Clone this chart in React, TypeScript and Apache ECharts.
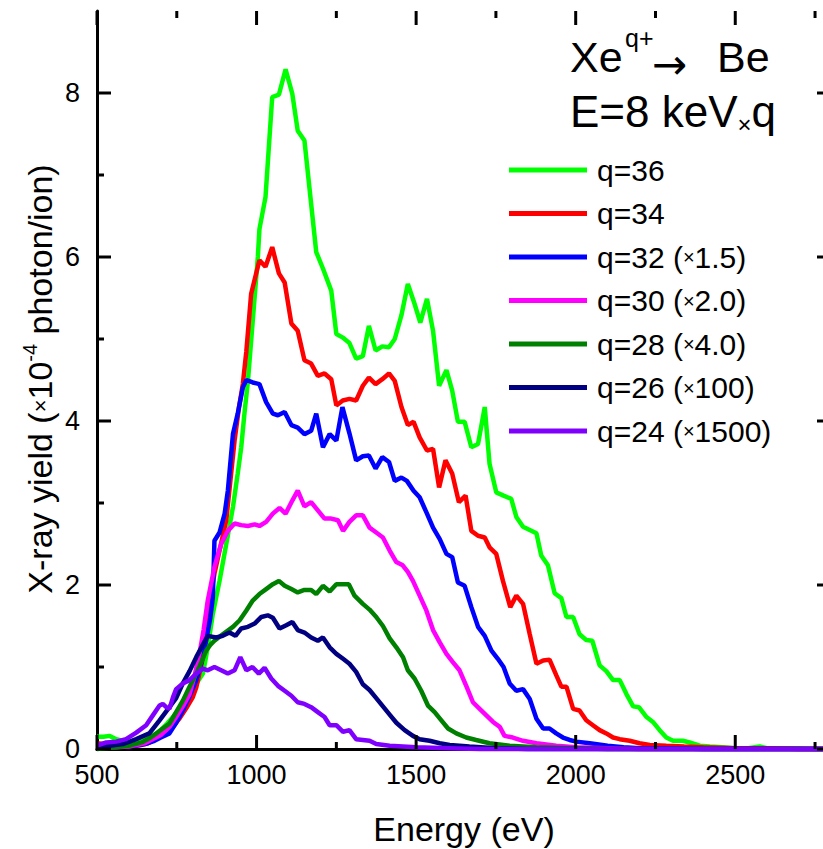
import React, { useEffect, useRef } from 'react';
import * as echarts from 'echarts';

const FONT = '"Liberation Sans", Arial, Helvetica, sans-serif';

// Axis ranges (Energy in eV, yield in 1e-4 photon/ion)
const xRange = [500, 2800];
const yRange = [0, 9];
const xInterval = 500;
const yInterval = 2;
const xMajorTicks = [500, 1000, 1500, 2000, 2500];
const xMinorTicks = [750, 1250, 1750, 2250, 2750];
const yMajorTicks = [0, 2, 4, 6, 8];
const yMinorTicks = [1, 3, 5, 7];

const seriesNames = [
  'q=36',
  'q=34',
  'q=32 (×1.5)',
  'q=30 (×2.0)',
  'q=28 (×4.0)',
  'q=26 (×100)',
  'q=24 (×1500)',
];
const seriesColors = ['#00ff00', '#ff0000', '#0000ff', '#ff00ff', '#008000', '#000080', '#8000ff'];

// [energy (eV), yield] pairs per charge state
const q36: [number, number][] = [
  [500, 0.15], [520, 0.15], [540, 0.16], [560, 0.12], [580, 0.1], [600, 0.08], [620, 0.08], [640, 0.1],
  [660, 0.13], [680, 0.17], [700, 0.23], [720, 0.31], [740, 0.4], [760, 0.5], [780, 0.6], [800, 0.72],
  [815, 0.82], [832, 0.92], [847, 1.24], [863, 1.65], [884, 2.05], [905, 2.5], [926, 2.95], [941, 3.36],
  [952, 3.68], [962, 4.09], [973, 4.49], [1004, 6.0], [1009, 6.34], [1028, 6.73], [1049, 7.95], [1070, 7.98],
  [1091, 8.29], [1112, 7.99], [1129, 7.54], [1150, 7.42], [1187, 6.06], [1208, 5.86], [1234, 5.59], [1250, 5.06],
  [1269, 5.02], [1291, 4.95], [1312, 4.76], [1333, 4.79], [1352, 5.16], [1373, 4.86], [1394, 4.91], [1415, 4.9],
  [1433, 5.0], [1454, 5.29], [1474, 5.67], [1495, 5.43], [1513, 5.2], [1534, 5.49], [1553, 5.1], [1572, 4.43],
  [1595, 4.62], [1613, 4.37], [1631, 3.99], [1652, 3.99], [1673, 3.68], [1694, 3.72], [1715, 4.17], [1730, 3.48],
  [1751, 3.13], [1774, 3.09], [1798, 3.05], [1814, 2.83], [1835, 2.71], [1856, 2.67], [1877, 2.63], [1892, 2.36],
  [1913, 2.24], [1934, 1.9], [1955, 1.84], [1971, 1.61], [1992, 1.61], [2012, 1.4], [2033, 1.33], [2052, 1.32],
  [2075, 1.02], [2096, 0.95], [2117, 0.84], [2138, 0.84], [2159, 0.67], [2180, 0.52], [2198, 0.51], [2222, 0.39],
  [2242, 0.33], [2263, 0.23], [2284, 0.14], [2305, 0.1], [2336, 0.1], [2357, 0.08], [2389, 0.04], [2420, 0.03],
  [2460, 0.02], [2500, 0.01], [2540, 0.01], [2577, 0.03], [2600, 0.01], [2650, 0.01], [2700, 0.01], [2750, 0.0],
  [2800, 0.0],
];

const q34: [number, number][] = [
  [500, 0.07], [520, 0.06], [540, 0.06], [560, 0.05], [580, 0.04], [600, 0.04], [620, 0.04], [640, 0.05],
  [660, 0.07], [680, 0.11], [700, 0.15], [720, 0.21], [740, 0.28], [760, 0.38], [780, 0.5], [800, 0.63],
  [811, 0.75], [832, 1.12], [850, 1.73], [868, 2.14], [884, 2.42], [905, 2.79], [931, 3.76], [945, 4.17],
  [957, 4.45], [968, 4.85], [983, 5.55], [1009, 5.96], [1028, 5.88], [1049, 6.12], [1070, 5.8], [1088, 5.69],
  [1109, 5.19], [1129, 5.1], [1150, 4.74], [1171, 4.7], [1192, 4.55], [1213, 4.58], [1234, 4.51], [1250, 4.19],
  [1270, 4.25], [1291, 4.27], [1312, 4.25], [1333, 4.43], [1352, 4.53], [1373, 4.45], [1394, 4.51], [1415, 4.58],
  [1433, 4.49], [1454, 4.17], [1474, 3.95], [1492, 3.99], [1511, 3.8], [1534, 3.64], [1553, 3.66], [1572, 3.19],
  [1592, 3.52], [1613, 3.36], [1634, 3.01], [1655, 3.09], [1673, 2.66], [1694, 2.6], [1715, 2.58], [1730, 2.46],
  [1751, 2.38], [1772, 2.05], [1795, 1.73], [1814, 1.87], [1835, 1.77], [1856, 1.4], [1877, 1.04], [1898, 1.08],
  [1918, 1.09], [1939, 0.9], [1955, 0.76], [1971, 0.76], [1992, 0.49], [2012, 0.47], [2033, 0.35], [2054, 0.29],
  [2075, 0.23], [2096, 0.19], [2117, 0.14], [2138, 0.12], [2169, 0.1], [2200, 0.07], [2232, 0.05], [2284, 0.04],
  [2340, 0.03], [2400, 0.02], [2500, 0.01], [2600, 0.01], [2700, 0.0], [2800, 0.0],
];

const q32: [number, number][] = [
  [500, 0.02], [540, 0.02], [580, 0.03], [620, 0.04], [650, 0.06], [680, 0.1], [700, 0.14], [727, 0.19],
  [748, 0.32], [769, 0.47], [790, 0.64], [811, 0.84], [827, 1.05], [842, 1.32], [855, 1.6], [863, 1.85],
  [868, 2.54], [884, 2.64], [900, 2.87], [910, 3.15], [926, 3.84], [941, 4.09], [957, 4.41], [968, 4.5],
  [988, 4.47], [1009, 4.45], [1030, 4.23], [1051, 4.09], [1067, 4.07], [1088, 4.11], [1109, 3.95], [1129, 3.92],
  [1150, 3.84], [1171, 3.88], [1187, 4.09], [1208, 3.68], [1229, 3.84], [1250, 3.76], [1269, 4.17], [1291, 3.85],
  [1312, 3.52], [1333, 3.57], [1352, 3.58], [1373, 3.42], [1394, 3.56], [1415, 3.5], [1433, 3.27], [1454, 3.31],
  [1471, 3.27], [1492, 3.15], [1511, 3.07], [1534, 2.87], [1553, 2.7], [1574, 2.56], [1595, 2.38], [1613, 2.34],
  [1631, 2.03], [1652, 1.99], [1673, 1.73], [1694, 1.49], [1715, 1.38], [1736, 1.2], [1756, 1.1], [1774, 1.0],
  [1793, 0.8], [1814, 0.71], [1835, 0.73], [1856, 0.61], [1877, 0.37], [1898, 0.25], [1918, 0.25], [1939, 0.19],
  [1960, 0.14], [1981, 0.11], [2002, 0.09], [2044, 0.07], [2100, 0.04], [2150, 0.02], [2200, 0.01], [2300, 0.01],
  [2400, 0.0], [2800, 0.0],
];

const q30: [number, number][] = [
  [500, 0.02], [560, 0.02], [600, 0.03], [650, 0.07], [700, 0.17], [727, 0.27], [748, 0.39], [769, 0.52],
  [790, 0.67], [805, 0.88], [821, 1.16], [834, 1.45], [847, 1.81], [868, 2.22], [889, 2.5], [910, 2.66],
  [931, 2.75], [952, 2.73], [973, 2.72], [994, 2.74], [1009, 2.72], [1030, 2.77], [1051, 2.87], [1072, 2.94],
  [1091, 2.87], [1112, 3.03], [1129, 3.15], [1150, 2.96], [1171, 3.01], [1192, 2.91], [1213, 2.81], [1234, 2.81],
  [1255, 2.79], [1271, 2.66], [1291, 2.77], [1312, 2.85], [1333, 2.85], [1354, 2.7], [1375, 2.64], [1396, 2.58],
  [1417, 2.42], [1438, 2.28], [1458, 2.24], [1474, 2.16], [1490, 2.05], [1511, 1.87], [1532, 1.69], [1553, 1.45],
  [1574, 1.3], [1595, 1.16], [1615, 1.06], [1636, 0.96], [1657, 0.77], [1678, 0.57], [1699, 0.49], [1720, 0.41],
  [1741, 0.33], [1762, 0.27], [1777, 0.16], [1803, 0.14], [1835, 0.1], [1877, 0.07], [1939, 0.04], [2000, 0.02],
  [2100, 0.01], [2200, 0.0], [2800, 0.0],
];

const q28: [number, number][] = [
  [500, 0.0], [560, 0.02], [600, 0.04], [640, 0.08], [664, 0.13], [686, 0.19], [706, 0.25], [727, 0.31],
  [748, 0.45], [769, 0.59], [790, 0.76], [811, 0.92], [827, 1.06], [842, 1.2], [855, 1.27], [868, 1.32],
  [894, 1.4], [926, 1.49], [947, 1.57], [968, 1.69], [988, 1.81], [1009, 1.89], [1030, 1.95], [1051, 2.01],
  [1070, 2.05], [1088, 1.99], [1109, 1.95], [1129, 1.91], [1150, 1.94], [1171, 1.94], [1187, 1.89], [1208, 1.99],
  [1229, 1.92], [1250, 2.01], [1269, 2.01], [1289, 2.01], [1307, 1.87], [1333, 1.77], [1354, 1.7], [1375, 1.61],
  [1396, 1.5], [1417, 1.35], [1438, 1.24], [1459, 1.12], [1474, 0.96], [1495, 0.86], [1516, 0.71], [1537, 0.53],
  [1558, 0.45], [1579, 0.35], [1600, 0.25], [1626, 0.19], [1657, 0.14], [1688, 0.11], [1730, 0.07], [1793, 0.04],
  [1877, 0.02], [2000, 0.01], [2100, 0.0], [2800, 0.0],
];

const q26: [number, number][] = [
  [500, 0.02], [539, 0.04], [581, 0.06], [623, 0.12], [664, 0.19], [696, 0.35], [727, 0.51], [748, 0.62],
  [769, 0.8], [790, 0.95], [811, 1.12], [830, 1.26], [847, 1.38], [873, 1.36], [894, 1.38], [915, 1.42],
  [934, 1.38], [952, 1.47], [973, 1.49], [994, 1.53], [1015, 1.61], [1035, 1.63], [1051, 1.6], [1072, 1.47],
  [1093, 1.51], [1112, 1.55], [1129, 1.45], [1150, 1.42], [1171, 1.36], [1192, 1.32], [1208, 1.36], [1229, 1.24],
  [1250, 1.16], [1271, 1.1], [1291, 1.04], [1312, 0.94], [1333, 0.79], [1354, 0.72], [1375, 0.62], [1396, 0.52],
  [1417, 0.42], [1438, 0.32], [1464, 0.23], [1490, 0.16], [1511, 0.12], [1542, 0.1], [1574, 0.07], [1605, 0.05],
  [1667, 0.03], [1750, 0.01], [1850, 0.0], [2800, 0.0],
];

const q24: [number, number][] = [
  [500, 0.04], [529, 0.08], [560, 0.09], [591, 0.12], [623, 0.2], [654, 0.29], [675, 0.41], [696, 0.53],
  [706, 0.55], [717, 0.51], [727, 0.49], [738, 0.63], [748, 0.73], [769, 0.8], [790, 0.84], [811, 0.92],
  [832, 0.98], [847, 0.96], [868, 1.0], [889, 0.96], [910, 0.92], [931, 0.96], [949, 1.12], [968, 0.96],
  [987, 1.0], [1007, 0.92], [1025, 0.99], [1046, 0.86], [1067, 0.77], [1088, 0.71], [1109, 0.65], [1129, 0.57],
  [1150, 0.55], [1171, 0.51], [1192, 0.45], [1213, 0.39], [1229, 0.29], [1250, 0.29], [1271, 0.21], [1291, 0.23],
  [1312, 0.12], [1333, 0.11], [1354, 0.1], [1375, 0.06], [1417, 0.04], [1500, 0.02], [1600, 0.01], [1700, 0.0],
  [2800, 0.0],
];

const seriesData = [q36, q34, q32, q30, q28, q26, q24];

const MAJOR_LEN = 14;
const MINOR_LEN = 7;

// Frame sides; the inward ticks are added as graphic lines below
function frameAxis(position: string, range: number[], interval: number, extra: any = {}) {
  return {
    type: 'value',
    position,
    min: range[0],
    max: range[1],
    interval,
    axisLine: { show: true, lineStyle: { color: '#000', width: 3 } },
    axisTick: { show: false },
    minorTick: { show: false },
    splitLine: { show: false },
    axisLabel: { show: false },
    ...extra,
  };
}

const labelStyle = {
  show: true,
  color: '#000',
  fontFamily: FONT,
  fontSize: 27,
  showMaxLabel: false,
  formatter: (v: number) => String(v),
};

const titleTexts = [
  { type: 'text', x: 570, y: 56.8, style: { text: 'Xe', fontFamily: FONT, fontSize: 43, fill: '#000', align: 'left', verticalAlign: 'middle' } },
  { type: 'text', x: 625, y: 37.5, style: { text: 'q+', fontFamily: FONT, fontSize: 25, fill: '#000', align: 'left', verticalAlign: 'middle' } },
  { type: 'text', x: 652, y: 64, style: { text: '→', fontFamily: '"DejaVu Sans"', fontSize: 42, fill: '#000', align: 'left', verticalAlign: 'middle' } },
  { type: 'text', x: 717, y: 56.8, style: { text: 'Be', fontFamily: FONT, fontSize: 43, fill: '#000', align: 'left', verticalAlign: 'middle' } },
  {
    type: 'text',
    x: 570,
    y: 111.8,
    style: {
      text: '{a|E=8 keV}{b|×}{a|q}',
      align: 'left',
      verticalAlign: 'middle',
      rich: {
        a: { fontFamily: FONT, fontSize: 44, fill: '#000', lineHeight: 50 },
        b: { fontFamily: FONT, fontSize: 24, fill: '#000', lineHeight: 40, verticalAlign: 'bottom' },
      },
    },
  },
  // axis titles
  {
    type: 'text',
    x: 464,
    y: 829,
    style: { text: 'Energy (eV)', fontFamily: FONT, fontSize: 34, fill: '#000', align: 'center', verticalAlign: 'middle' },
  },
  {
    type: 'text',
    x: 40,
    y: 379,
    rotation: Math.PI / 2,
    style: {
      text: 'X-ray yield ({x|×}10{sup|-4} photon/ion)',
      fontFamily: FONT,
      fontSize: 34,
      fill: '#000',
      align: 'center',
      verticalAlign: 'middle',
      lineHeight: 40,
      rich: {
        x: { fontFamily: FONT, fontSize: 22, fill: '#000', lineHeight: 40 },
        sup: { fontFamily: FONT, fontSize: 20, fill: '#000', verticalAlign: 'top', lineHeight: 20 },
      },
    },
  },
];

function buildOption(): any {
  return {
    animation: false,
    backgroundColor: '#fff',
    grid: { left: 97, right: 14, top: 11, bottom: 100 },
    xAxis: [
      frameAxis('bottom', xRange, xInterval, { axisLabel: { ...labelStyle, margin: 12 } }),
      frameAxis('top', xRange, xInterval),
    ],
    yAxis: [
      frameAxis('left', yRange, yInterval, { axisLabel: { ...labelStyle, margin: 17 } }),
      frameAxis('right', yRange, yInterval),
    ],
    legend: {
      show: true,
      orient: 'vertical',
      left: 504,
      top: 150,
      itemWidth: 78,
      itemHeight: 5,
      itemGap: 13.5,
      icon: 'rect',
      selectedMode: false,
      data: seriesNames,
      formatter: (name: string) => name.replace('×', '{x|×}'),
      textStyle: {
        color: '#000',
        fontFamily: FONT,
        fontSize: 30,
        lineHeight: 30,
        padding: [0, 0, 0, 5],
        rich: { x: { fontFamily: FONT, fontSize: 20, color: '#000', lineHeight: 30 } },
      },
    },
    series: seriesNames.map((name, i) => ({
      name,
      type: 'line',
      data: seriesData[i],
      xAxisIndex: 0,
      yAxisIndex: 0,
      showSymbol: false,
      symbol: 'none',
      clip: false,
      z: 2 + i,
      lineStyle: { color: seriesColors[i], width: 4.5 },
      itemStyle: { color: seriesColors[i] },
    })),
  };
}

// Inward tick marks on all four frame sides, placed through the chart's own scales
function tickGraphics(chart: echarts.ECharts): any[] {
  const finder = { xAxisIndex: 0, yAxisIndex: 0 };
  const style = { stroke: '#000', lineWidth: 3 };
  const out: any[] = [];
  const line = (x1: number, y1: number, x2: number, y2: number) =>
    out.push({ type: 'line', z: 100, zlevel: 0, silent: true, shape: { x1, y1, x2, y2 }, style });
  const xTick = (v: number, len: number) => {
    const b = chart.convertToPixel(finder, [v, yRange[0]]) as number[];
    const t = chart.convertToPixel(finder, [v, yRange[1]]) as number[];
    line(b[0], b[1], b[0], b[1] - len);
    line(t[0], t[1], t[0], t[1] + len);
  };
  const yTick = (v: number, len: number) => {
    const l = chart.convertToPixel(finder, [xRange[0], v]) as number[];
    const r = chart.convertToPixel(finder, [xRange[1], v]) as number[];
    line(l[0], l[1], l[0] + len, l[1]);
    line(r[0], r[1], r[0] - len, r[1]);
  };
  xMajorTicks.forEach((v) => xTick(v, MAJOR_LEN));
  xMinorTicks.forEach((v) => xTick(v, MINOR_LEN));
  yMajorTicks.forEach((v) => yTick(v, MAJOR_LEN));
  yMinorTicks.forEach((v) => yTick(v, MINOR_LEN));
  return out;
}

export default function App() {
  const ref = useRef<HTMLDivElement>(null);
  useEffect(() => {
    if (!ref.current) return;
    const chart = echarts.init(ref.current, null, { renderer: 'svg' });
    chart.setOption(buildOption());
    chart.setOption({ graphic: { elements: [...titleTexts, ...tickGraphics(chart)] } });
    return () => chart.dispose();
  }, []);
  return (
    <div
      style={{
        position: 'fixed',
        left: 0,
        top: 0,
        width: 823,
        height: 849,
        overflow: 'hidden',
        background: '#fff',
      }}
    >
      <div ref={ref} style={{ width: 845, height: 849 }} />
    </div>
  );
}
